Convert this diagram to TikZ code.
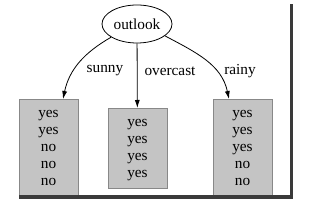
\documentclass[tikz,border=0pt]{standalone}
\usepackage{fontspec}
\setmainfont{Liberation Serif}
\usepackage{xcolor}
\usepackage{tikz}
\usetikzlibrary{positioning, arrows.meta, shapes.geometric}

\definecolor{leafgray}{HTML}{C4C4C4}
\definecolor{leafline}{HTML}{888888}
\definecolor{framedark}{HTML}{3A3A3A}

\begin{document}
\begin{tikzpicture}[
    x=1pt, y=1pt,
    every node/.style={font=\fontsize{15.3}{17}\selectfont, align=center},
    attr/.style={draw, ellipse, thick, inner sep=0pt,
                 minimum width=70pt, minimum height=38pt},
    leaf/.style={draw=leafline, fill=leafgray, anchor=north,
                 minimum width=59pt, inner ysep=6pt},
    arr/.style={-{Latex[length=8pt, width=5pt]}, thick}
]
\useasboundingbox (0,0) rectangle (321,208);
\node[attr] (outlook) at (137,184) {outlook};
\node[leaf] (sunnyleaf) at (48.5,109) {\strut yes\\ \strut yes\\ \strut no\\ \strut no\\ \strut no};
\node[leaf] (overleaf) at (137.5,100) {\strut yes\\ \strut yes\\ \strut yes\\ \strut yes};
\node[leaf] (rainyleaf) at (242.5,109) {\strut yes\\ \strut yes\\ \strut yes\\ \strut no\\ \strut no};
\draw[arr] (outlook.207) to[out=210, in=78] ([xshift=14.5pt]sunnyleaf.north);
\draw[arr] (outlook) -- (overleaf);
\draw[arr] (outlook.-23) to[out=-28, in=102] ([xshift=-13.5pt]rainyleaf.north);
\node (sunny) at (105,137) {sunny};
\node (overcast) at (170,137) {overcast};
\node (rainy) at (240,137) {rainy};
% shadow frame
\draw[framedark, line width=3.5pt] (19,11) -- (291.5,11) -- (291.5,204);
\end{tikzpicture}
\end{document}
